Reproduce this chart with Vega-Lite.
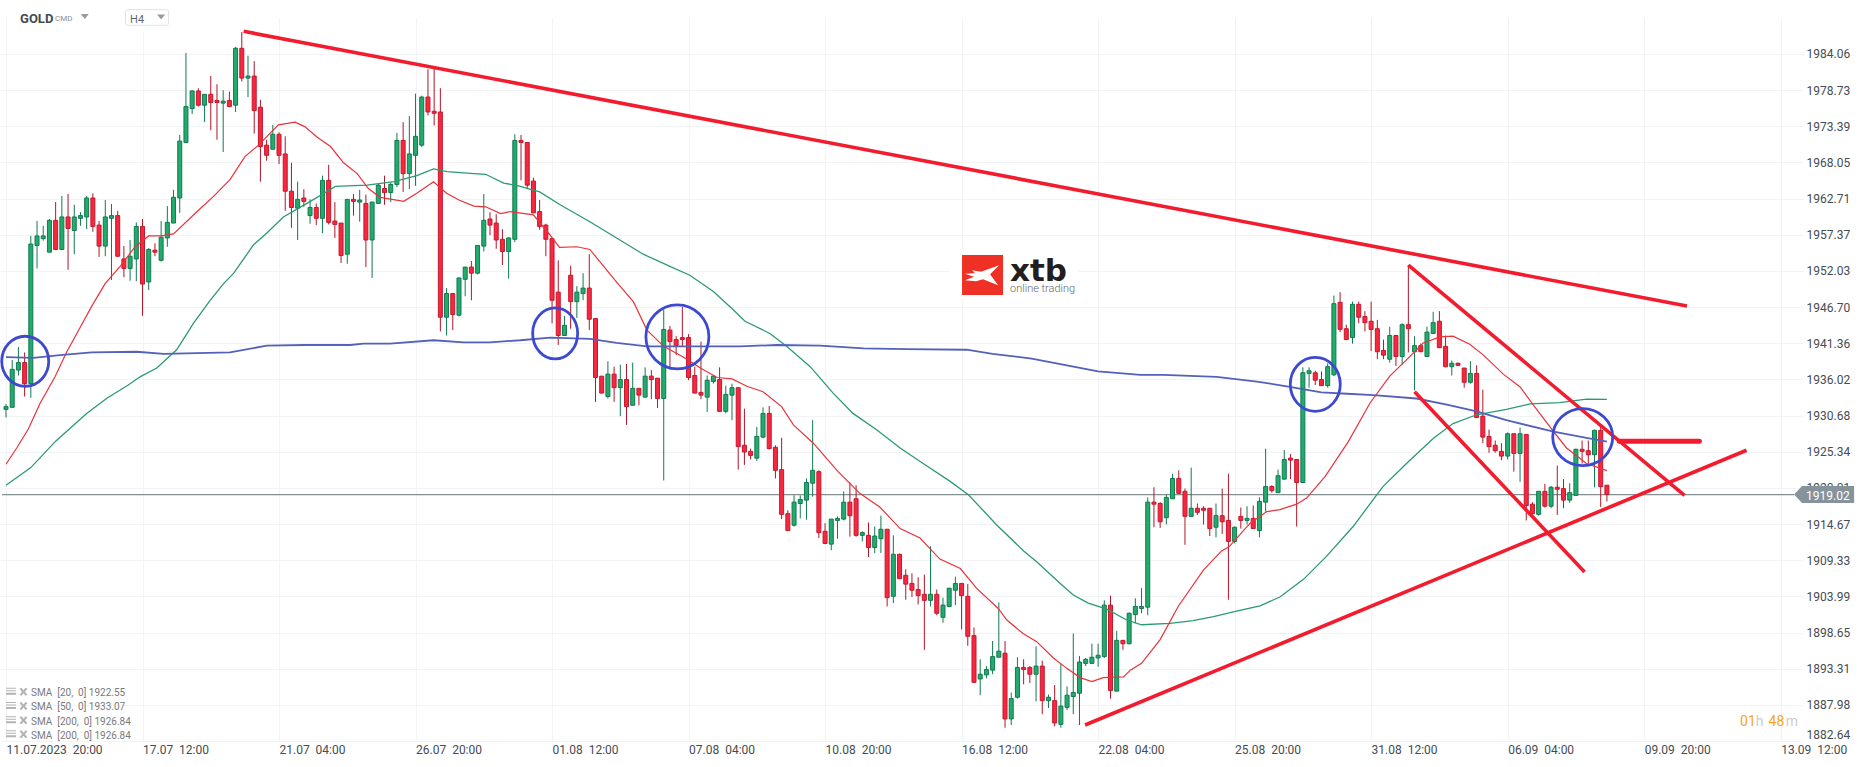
{
  "$schema": "https://vega.github.io/schema/vega-lite/v6.json",
  "width": 1803,
  "height": 723,
  "autosize": "none",
  "padding": {"left": 0, "top": 18, "right": 63, "bottom": 26},
  "background": "white",
  "config": {"view": {"stroke": null}, "font": "Roboto"},
  "resolve": {"scale": {"color": "independent", "shape": "independent"}},
  "datasets": {
    "candles": [
      {"i":0,"o":1931.6,"h":1932.4,"l":1930.4,"c":1932.0},{"i":1,"o":1931.9,"h":1938.9,"l":1931.9,"c":1937.5},{"i":2,"o":1937.4,"h":1940.8,"l":1936.6,"c":1938.5},{"i":3,"o":1938.5,"h":1940.0,"l":1933.5,"c":1935.4},{"i":4,"o":1935.4,"h":1957.2,"l":1933.3,"c":1956.0},
      {"i":5,"o":1955.8,"h":1959.4,"l":1952.4,"c":1957.2},{"i":6,"o":1956.8,"h":1958.7,"l":1956.5,"c":1957.2},{"i":7,"o":1954.8,"h":1959.7,"l":1954.8,"c":1959.5},{"i":8,"o":1959.5,"h":1962.2,"l":1955.1,"c":1955.2},{"i":9,"o":1955.2,"h":1963.1,"l":1955.2,"c":1960.0},
      {"i":10,"o":1960.0,"h":1963.4,"l":1952.2,"c":1958.3},{"i":11,"o":1958.0,"h":1961.8,"l":1954.5,"c":1960.0},{"i":12,"o":1959.8,"h":1960.7,"l":1958.7,"c":1960.2},{"i":13,"o":1960.0,"h":1963.1,"l":1958.2,"c":1962.8},{"i":14,"o":1962.8,"h":1963.5,"l":1957.8,"c":1958.6},
      {"i":15,"o":1958.8,"h":1959.4,"l":1954.1,"c":1955.7},{"i":16,"o":1955.7,"h":1962.5,"l":1954.2,"c":1960.0},{"i":17,"o":1959.8,"h":1961.9,"l":1950.7,"c":1960.2},{"i":18,"o":1960.2,"h":1960.9,"l":1954.1,"c":1954.2},{"i":19,"o":1953.8,"h":1955.7,"l":1951.1,"c":1952.4},
      {"i":20,"o":1952.4,"h":1956.6,"l":1950.6,"c":1954.2},{"i":21,"o":1953.8,"h":1959.2,"l":1950.5,"c":1958.6},{"i":22,"o":1958.6,"h":1959.7,"l":1945.4,"c":1950.1},{"i":23,"o":1950.4,"h":1955.4,"l":1949.2,"c":1955.2},{"i":24,"o":1955.1,"h":1956.1,"l":1954.2,"c":1954.8},
      {"i":25,"o":1953.6,"h":1959.4,"l":1953.4,"c":1957.0},{"i":26,"o":1956.9,"h":1961.6,"l":1955.6,"c":1959.2},{"i":27,"o":1959.1,"h":1964.0,"l":1959.1,"c":1962.9},{"i":28,"o":1962.8,"h":1972.1,"l":1960.6,"c":1971.2},{"i":29,"o":1971.0,"h":1984.2,"l":1971.0,"c":1976.3},
      {"i":30,"o":1976.0,"h":1978.7,"l":1975.2,"c":1978.6},{"i":31,"o":1978.6,"h":1979.0,"l":1976.3,"c":1976.5},{"i":32,"o":1976.5,"h":1978.1,"l":1974.0,"c":1978.1},{"i":33,"o":1978.1,"h":1980.8,"l":1972.8,"c":1976.9},{"i":34,"o":1977.2,"h":1979.6,"l":1971.4,"c":1976.9},
      {"i":35,"o":1976.8,"h":1978.7,"l":1969.6,"c":1977.1},{"i":36,"o":1977.2,"h":1978.5,"l":1976.2,"c":1976.3},{"i":37,"o":1976.5,"h":1985.1,"l":1975.5,"c":1984.9},{"i":38,"o":1984.9,"h":1987.3,"l":1980.0,"c":1980.5},{"i":39,"o":1980.5,"h":1983.8,"l":1977.7,"c":1980.8},
      {"i":40,"o":1980.8,"h":1983.0,"l":1972.3,"c":1975.7},{"i":41,"o":1976.2,"h":1977.3,"l":1965.2,"c":1970.4},{"i":42,"o":1970.6,"h":1971.4,"l":1968.3,"c":1969.1},{"i":43,"o":1970.0,"h":1973.6,"l":1970.0,"c":1972.2},{"i":44,"o":1972.2,"h":1972.5,"l":1967.8,"c":1969.1},
      {"i":45,"o":1969.3,"h":1971.9,"l":1960.9,"c":1963.8},{"i":46,"o":1963.8,"h":1968.0,"l":1958.4,"c":1961.4},{"i":47,"o":1961.3,"h":1965.2,"l":1956.6,"c":1962.6},{"i":48,"o":1962.8,"h":1964.1,"l":1961.5,"c":1962.3},{"i":49,"o":1960.2,"h":1962.6,"l":1959.0,"c":1961.4},
      {"i":50,"o":1961.4,"h":1962.0,"l":1958.8,"c":1959.8},{"i":51,"o":1959.8,"h":1966.1,"l":1957.6,"c":1965.4},{"i":52,"o":1965.4,"h":1967.7,"l":1958.9,"c":1959.2},{"i":53,"o":1959.4,"h":1962.2,"l":1956.9,"c":1958.9},{"i":54,"o":1959.1,"h":1959.1,"l":1953.2,"c":1954.3},
      {"i":55,"o":1954.5,"h":1962.6,"l":1953.1,"c":1962.6},{"i":56,"o":1962.6,"h":1963.4,"l":1960.2,"c":1962.3},{"i":57,"o":1962.2,"h":1964.0,"l":1959.3,"c":1962.5},{"i":58,"o":1962.0,"h":1963.3,"l":1952.6,"c":1956.6},{"i":59,"o":1956.6,"h":1962.2,"l":1951.0,"c":1962.2},
      {"i":60,"o":1962.0,"h":1964.9,"l":1962.0,"c":1964.7},{"i":61,"o":1964.2,"h":1966.1,"l":1961.8,"c":1963.6},{"i":62,"o":1963.6,"h":1965.1,"l":1962.2,"c":1964.8},{"i":63,"o":1964.8,"h":1972.4,"l":1964.4,"c":1971.3},{"i":64,"o":1971.3,"h":1974.0,"l":1963.7,"c":1966.4},
      {"i":65,"o":1966.4,"h":1974.9,"l":1964.1,"c":1969.3},{"i":66,"o":1969.1,"h":1978.2,"l":1964.6,"c":1971.9},{"i":67,"o":1970.6,"h":1977.9,"l":1970.3,"c":1977.7},{"i":68,"o":1977.7,"h":1981.8,"l":1975.0,"c":1975.5},{"i":69,"o":1975.6,"h":1982.0,"l":1973.5,"c":1975.3},
      {"i":70,"o":1975.5,"h":1979.0,"l":1943.1,"c":1945.2},{"i":71,"o":1945.2,"h":1949.5,"l":1942.5,"c":1948.7},{"i":72,"o":1948.7,"h":1948.7,"l":1943.3,"c":1945.6},{"i":73,"o":1945.5,"h":1951.0,"l":1945.3,"c":1951.0},{"i":74,"o":1950.8,"h":1952.6,"l":1948.3,"c":1952.6},
      {"i":75,"o":1952.6,"h":1953.5,"l":1947.7,"c":1951.7},{"i":76,"o":1951.7,"h":1955.8,"l":1951.5,"c":1955.8},{"i":77,"o":1955.7,"h":1963.4,"l":1954.9,"c":1959.5},{"i":78,"o":1959.7,"h":1960.7,"l":1957.3,"c":1958.8},{"i":79,"o":1959.1,"h":1960.4,"l":1955.3,"c":1956.6},
      {"i":80,"o":1956.7,"h":1958.2,"l":1952.9,"c":1954.9},{"i":81,"o":1954.9,"h":1957.0,"l":1950.9,"c":1956.9},{"i":82,"o":1956.7,"h":1972.2,"l":1956.3,"c":1971.3},{"i":83,"o":1971.3,"h":1972.1,"l":1965.4,"c":1971.0},{"i":84,"o":1971.0,"h":1971.0,"l":1964.1,"c":1964.7},
      {"i":85,"o":1965.3,"h":1965.8,"l":1960.6,"c":1960.6},{"i":86,"o":1960.8,"h":1962.5,"l":1958.1,"c":1958.6},{"i":87,"o":1958.8,"h":1959.0,"l":1954.2,"c":1956.7},{"i":88,"o":1956.8,"h":1956.8,"l":1944.3,"c":1947.7},{"i":89,"o":1948.9,"h":1953.6,"l":1941.1,"c":1942.5},
      {"i":90,"o":1942.5,"h":1945.4,"l":1942.5,"c":1944.0},{"i":91,"o":1951.4,"h":1952.8,"l":1943.5,"c":1947.5},{"i":92,"o":1947.5,"h":1949.8,"l":1945.1,"c":1948.9},{"i":93,"o":1948.7,"h":1951.7,"l":1947.7,"c":1949.5},{"i":94,"o":1949.5,"h":1954.5,"l":1943.3,"c":1944.9},
      {"i":95,"o":1945.0,"h":1945.0,"l":1932.7,"c":1936.3},{"i":96,"o":1936.5,"h":1936.5,"l":1934.0,"c":1934.0},{"i":97,"o":1933.5,"h":1938.7,"l":1933.2,"c":1936.8},{"i":98,"o":1936.8,"h":1937.9,"l":1932.7,"c":1934.8},{"i":99,"o":1934.8,"h":1938.2,"l":1930.6,"c":1936.0},
      {"i":100,"o":1936.0,"h":1938.3,"l":1929.3,"c":1932.0},{"i":101,"o":1932.2,"h":1938.5,"l":1932.2,"c":1934.7},{"i":102,"o":1934.7,"h":1934.7,"l":1932.2,"c":1933.7},{"i":103,"o":1933.4,"h":1937.8,"l":1933.4,"c":1936.5},{"i":104,"o":1936.5,"h":1937.4,"l":1933.1,"c":1936.0},
      {"i":105,"o":1936.2,"h":1936.2,"l":1931.8,"c":1933.2},{"i":106,"o":1933.2,"h":1946.3,"l":1921.1,"c":1943.4},{"i":107,"o":1943.3,"h":1943.9,"l":1937.5,"c":1941.6},{"i":108,"o":1941.9,"h":1942.4,"l":1939.6,"c":1941.0},{"i":109,"o":1942.2,"h":1946.7,"l":1940.8,"c":1941.9},
      {"i":110,"o":1942.2,"h":1942.7,"l":1935.9,"c":1936.3},{"i":111,"o":1936.6,"h":1937.9,"l":1934.0,"c":1934.0},{"i":112,"o":1934.1,"h":1941.6,"l":1933.1,"c":1933.7},{"i":113,"o":1933.4,"h":1936.6,"l":1931.2,"c":1935.9},{"i":114,"o":1935.7,"h":1936.7,"l":1935.4,"c":1936.5},
      {"i":115,"o":1936.0,"h":1937.8,"l":1931.3,"c":1931.3},{"i":116,"o":1931.3,"h":1935.1,"l":1931.0,"c":1933.8},{"i":117,"o":1933.7,"h":1935.4,"l":1930.0,"c":1934.8},{"i":118,"o":1934.8,"h":1934.8,"l":1922.7,"c":1926.1},{"i":119,"o":1926.3,"h":1931.7,"l":1923.4,"c":1925.3},
      {"i":120,"o":1925.4,"h":1925.8,"l":1924.2,"c":1924.8},{"i":121,"o":1924.4,"h":1929.0,"l":1924.0,"c":1927.6},{"i":122,"o":1927.5,"h":1931.9,"l":1927.3,"c":1931.0},{"i":123,"o":1931.0,"h":1932.1,"l":1925.7,"c":1925.8},{"i":124,"o":1926.0,"h":1926.3,"l":1921.4,"c":1922.6},
      {"i":125,"o":1922.7,"h":1927.4,"l":1915.4,"c":1916.1},{"i":126,"o":1916.2,"h":1916.7,"l":1913.7,"c":1913.7},{"i":127,"o":1914.5,"h":1918.9,"l":1914.3,"c":1917.9},{"i":128,"o":1917.7,"h":1918.9,"l":1915.5,"c":1918.3},{"i":129,"o":1918.2,"h":1921.4,"l":1915.3,"c":1920.8},
      {"i":130,"o":1920.7,"h":1930.0,"l":1918.7,"c":1922.6},{"i":131,"o":1922.4,"h":1922.6,"l":1912.6,"c":1913.4},{"i":132,"o":1913.6,"h":1914.8,"l":1911.7,"c":1911.8},{"i":133,"o":1911.7,"h":1915.4,"l":1910.8,"c":1915.4},{"i":134,"o":1915.2,"h":1915.8,"l":1912.5,"c":1915.5},
      {"i":135,"o":1915.4,"h":1919.5,"l":1915.2,"c":1917.9},{"i":136,"o":1917.9,"h":1920.8,"l":1912.8,"c":1915.9},{"i":137,"o":1918.4,"h":1920.4,"l":1912.8,"c":1913.0},{"i":138,"o":1913.0,"h":1913.6,"l":1912.1,"c":1913.4},{"i":139,"o":1913.0,"h":1914.9,"l":1909.8,"c":1911.2},
      {"i":140,"o":1911.2,"h":1914.3,"l":1910.4,"c":1912.9},{"i":141,"o":1912.5,"h":1915.9,"l":1910.4,"c":1913.9},{"i":142,"o":1913.9,"h":1913.9,"l":1902.5,"c":1903.8},{"i":143,"o":1904.0,"h":1913.0,"l":1903.0,"c":1910.2},{"i":144,"o":1910.2,"h":1910.3,"l":1906.6,"c":1906.6},
      {"i":145,"o":1907.1,"h":1908.0,"l":1903.5,"c":1905.8},{"i":146,"o":1905.9,"h":1907.4,"l":1903.9,"c":1904.9},{"i":147,"o":1905.0,"h":1906.8,"l":1902.8,"c":1904.1},{"i":148,"o":1904.3,"h":1907.2,"l":1896.1,"c":1903.4},{"i":149,"o":1903.4,"h":1911.4,"l":1902.5,"c":1904.3},
      {"i":150,"o":1904.3,"h":1905.0,"l":1901.2,"c":1901.5},{"i":151,"o":1900.9,"h":1903.8,"l":1900.1,"c":1902.7},{"i":152,"o":1902.5,"h":1905.2,"l":1902.4,"c":1905.2},{"i":153,"o":1904.9,"h":1906.9,"l":1902.7,"c":1905.9},{"i":154,"o":1905.9,"h":1905.9,"l":1899.1,"c":1904.1},
      {"i":155,"o":1904.0,"h":1905.8,"l":1896.7,"c":1898.1},{"i":156,"o":1898.2,"h":1899.4,"l":1891.2,"c":1891.3},{"i":157,"o":1891.8,"h":1894.7,"l":1889.4,"c":1892.5},{"i":158,"o":1892.4,"h":1893.7,"l":1891.9,"c":1893.2},{"i":159,"o":1893.1,"h":1897.4,"l":1892.5,"c":1895.1},
      {"i":160,"o":1895.0,"h":1903.1,"l":1895.0,"c":1895.9},{"i":161,"o":1895.6,"h":1897.4,"l":1884.6,"c":1885.9},{"i":162,"o":1885.9,"h":1889.8,"l":1885.0,"c":1888.9},{"i":163,"o":1889.1,"h":1895.0,"l":1888.9,"c":1893.5},{"i":164,"o":1893.5,"h":1894.7,"l":1891.0,"c":1893.2},
      {"i":165,"o":1893.5,"h":1893.7,"l":1891.2,"c":1892.5},{"i":166,"o":1892.5,"h":1896.6,"l":1888.5,"c":1893.7},{"i":167,"o":1893.7,"h":1894.5,"l":1886.6,"c":1888.6},{"i":168,"o":1888.6,"h":1889.5,"l":1887.5,"c":1889.1},{"i":169,"o":1888.6,"h":1890.9,"l":1884.8,"c":1885.3},
      {"i":170,"o":1885.1,"h":1894.0,"l":1884.6,"c":1887.8},{"i":171,"o":1887.6,"h":1890.7,"l":1887.2,"c":1889.4},{"i":172,"o":1889.2,"h":1898.5,"l":1886.6,"c":1889.8},{"i":173,"o":1889.7,"h":1895.2,"l":1885.0,"c":1894.3},{"i":174,"o":1894.1,"h":1894.9,"l":1893.7,"c":1894.7},
      {"i":175,"o":1894.1,"h":1897.0,"l":1894.0,"c":1895.0},{"i":176,"o":1894.9,"h":1897.0,"l":1893.6,"c":1895.3},{"i":177,"o":1895.1,"h":1903.4,"l":1894.9,"c":1902.7},{"i":178,"o":1902.7,"h":1904.1,"l":1888.9,"c":1890.1},{"i":179,"o":1890.0,"h":1898.9,"l":1890.0,"c":1897.5},
      {"i":180,"o":1897.5,"h":1897.5,"l":1896.1,"c":1897.0},{"i":181,"o":1897.0,"h":1901.6,"l":1896.9,"c":1901.5},{"i":182,"o":1901.3,"h":1903.7,"l":1900.0,"c":1902.5},{"i":183,"o":1902.2,"h":1905.2,"l":1901.5,"c":1902.5},{"i":184,"o":1902.4,"h":1918.6,"l":1901.2,"c":1917.9},
      {"i":185,"o":1917.9,"h":1920.1,"l":1914.2,"c":1917.6},{"i":186,"o":1917.7,"h":1917.9,"l":1914.1,"c":1915.0},{"i":187,"o":1915.6,"h":1919.0,"l":1914.6,"c":1918.6},{"i":188,"o":1918.4,"h":1922.1,"l":1918.4,"c":1921.4},{"i":189,"o":1921.4,"h":1922.6,"l":1919.1,"c":1919.2},
      {"i":190,"o":1919.5,"h":1919.9,"l":1911.6,"c":1915.8},{"i":191,"o":1915.8,"h":1923.0,"l":1915.8,"c":1917.0},{"i":192,"o":1917.0,"h":1917.7,"l":1916.0,"c":1916.4},{"i":193,"o":1917.0,"h":1917.3,"l":1914.6,"c":1916.7},{"i":194,"o":1917.0,"h":1917.0,"l":1912.9,"c":1914.0},
      {"i":195,"o":1914.2,"h":1917.7,"l":1912.7,"c":1915.9},{"i":196,"o":1915.9,"h":1919.9,"l":1913.2,"c":1915.0},{"i":197,"o":1915.2,"h":1922.1,"l":1903.5,"c":1912.1},{"i":198,"o":1912.1,"h":1914.3,"l":1911.8,"c":1914.2},{"i":199,"o":1915.8,"h":1917.1,"l":1914.0,"c":1915.2},
      {"i":200,"o":1915.2,"h":1917.3,"l":1914.6,"c":1915.5},{"i":201,"o":1915.5,"h":1917.4,"l":1914.0,"c":1914.0},{"i":202,"o":1913.7,"h":1918.6,"l":1912.7,"c":1918.0},{"i":203,"o":1917.9,"h":1925.8,"l":1916.5,"c":1920.2},{"i":204,"o":1920.2,"h":1920.4,"l":1919.3,"c":1919.6},
      {"i":205,"o":1919.3,"h":1922.7,"l":1919.3,"c":1921.8},{"i":206,"o":1921.3,"h":1925.6,"l":1921.2,"c":1924.2},{"i":207,"o":1924.4,"h":1925.0,"l":1921.3,"c":1924.1},{"i":208,"o":1924.2,"h":1924.2,"l":1914.3,"c":1920.8},{"i":209,"o":1920.8,"h":1937.8,"l":1920.7,"c":1937.0},
      {"i":210,"o":1936.9,"h":1937.8,"l":1934.8,"c":1937.3},{"i":211,"o":1937.0,"h":1937.3,"l":1935.2,"c":1935.9},{"i":212,"o":1936.0,"h":1937.2,"l":1935.1,"c":1935.1},{"i":213,"o":1935.1,"h":1938.4,"l":1934.8,"c":1937.9},{"i":214,"o":1936.7,"h":1948.4,"l":1936.5,"c":1947.2},
      {"i":215,"o":1947.4,"h":1948.9,"l":1943.0,"c":1943.4},{"i":216,"o":1943.5,"h":1944.1,"l":1941.9,"c":1941.9},{"i":217,"o":1942.2,"h":1947.5,"l":1941.3,"c":1947.1},{"i":218,"o":1947.1,"h":1947.5,"l":1944.3,"c":1945.2},{"i":219,"o":1945.3,"h":1946.1,"l":1943.1,"c":1944.4},
      {"i":220,"o":1944.6,"h":1947.5,"l":1940.2,"c":1943.4},{"i":221,"o":1943.5,"h":1944.8,"l":1939.0,"c":1940.1},{"i":222,"o":1940.3,"h":1941.9,"l":1939.0,"c":1939.6},{"i":223,"o":1939.0,"h":1943.8,"l":1938.5,"c":1942.5},{"i":224,"o":1942.5,"h":1942.5,"l":1938.0,"c":1939.4},
      {"i":225,"o":1939.4,"h":1944.3,"l":1938.2,"c":1944.1},{"i":226,"o":1944.1,"h":1952.9,"l":1940.0,"c":1943.5},{"i":227,"o":1940.1,"h":1942.4,"l":1934.4,"c":1941.0},{"i":228,"o":1941.0,"h":1941.3,"l":1940.1,"c":1940.1},{"i":229,"o":1939.4,"h":1943.8,"l":1939.3,"c":1943.0},
      {"i":230,"o":1942.8,"h":1946.0,"l":1942.8,"c":1944.4},{"i":231,"o":1944.6,"h":1946.1,"l":1940.7,"c":1940.7},{"i":232,"o":1940.9,"h":1942.5,"l":1937.8,"c":1937.9},{"i":233,"o":1937.9,"h":1938.8,"l":1936.6,"c":1938.4},{"i":234,"o":1938.4,"h":1938.5,"l":1938.0,"c":1938.1},
      {"i":235,"o":1937.7,"h":1937.7,"l":1934.8,"c":1935.6},{"i":236,"o":1935.6,"h":1938.7,"l":1935.4,"c":1936.9},{"i":237,"o":1936.9,"h":1938.1,"l":1930.4,"c":1930.4},{"i":238,"o":1930.6,"h":1934.5,"l":1926.6,"c":1927.5},{"i":239,"o":1927.6,"h":1928.6,"l":1925.2,"c":1926.1},
      {"i":240,"o":1926.3,"h":1927.0,"l":1925.2,"c":1925.5},{"i":241,"o":1925.4,"h":1926.6,"l":1924.1,"c":1924.7},{"i":242,"o":1924.7,"h":1928.2,"l":1924.2,"c":1928.0},{"i":243,"o":1928.0,"h":1928.0,"l":1922.4,"c":1925.1},{"i":244,"o":1925.1,"h":1928.9,"l":1920.9,"c":1928.0},
      {"i":245,"o":1927.9,"h":1927.9,"l":1915.2,"c":1917.4},{"i":246,"o":1917.6,"h":1917.9,"l":1916.1,"c":1916.2},{"i":247,"o":1916.1,"h":1919.5,"l":1915.9,"c":1919.5},{"i":248,"o":1919.5,"h":1920.6,"l":1917.1,"c":1917.3},{"i":249,"o":1917.3,"h":1920.3,"l":1917.0,"c":1920.1},
      {"i":250,"o":1920.1,"h":1923.3,"l":1916.0,"c":1919.8},{"i":251,"o":1919.9,"h":1921.3,"l":1917.0,"c":1918.2},{"i":252,"o":1918.2,"h":1920.7,"l":1917.8,"c":1919.3},{"i":253,"o":1918.9,"h":1925.8,"l":1918.9,"c":1925.7},{"i":254,"o":1925.7,"h":1927.0,"l":1923.6,"c":1925.4},
      {"i":255,"o":1925.5,"h":1927.0,"l":1923.6,"c":1924.9},{"i":256,"o":1924.9,"h":1928.6,"l":1920.1,"c":1928.5},{"i":257,"o":1928.5,"h":1929.0,"l":1917.2,"c":1920.2},{"i":258,"o":1920.4,"h":1920.4,"l":1918.0,"c":1919.02}
    ],
    "sma20": [
      {"i":0,"p":1923.5},{"i":1.8,"p":1926.0},{"i":3.6,"p":1928.7},{"i":5.5,"p":1932.5},{"i":7.9,"p":1936.4},{"i":9.8,"p":1940.1},{"i":11.9,"p":1943.6},{"i":13.8,"p":1946.8},{"i":16,"p":1950.2},{"i":18.4,"p":1952.7},{"i":20.8,"p":1955.6},{"i":23,"p":1957.2},{"i":25.1,"p":1957.2},{"i":27,"p":1957.5},{"i":30.8,"p":1960.8},{"i":33.4,"p":1963.0},{"i":36.1,"p":1965.5},{"i":38.5,"p":1968.9},{"i":40.7,"p":1970.6},{"i":43.9,"p":1973.6},{"i":46.6,"p":1974.0},{"i":48.2,"p":1973.3},{"i":50.1,"p":1971.8},{"i":52.3,"p":1970.4},{"i":54.4,"p":1968.0},{"i":56.6,"p":1966.4},{"i":58.4,"p":1964.2},{"i":60.3,"p":1962.9},{"i":64.1,"p":1962.3},{"i":66.2,"p":1963.5},{"i":68.9,"p":1965.2},{"i":71,"p":1963.5},{"i":73,"p":1962.5},{"i":75.4,"p":1961.6},{"i":77.3,"p":1961.5},{"i":79.7,"p":1960.5},{"i":81.3,"p":1960.8},{"i":85,"p":1960.3},{"i":87.7,"p":1957.3},{"i":89.2,"p":1955.5},{"i":92,"p":1955.6},{"i":94.1,"p":1955.2},{"i":98.1,"p":1950.7},{"i":101.1,"p":1947.5},{"i":103.3,"p":1943.3},{"i":106,"p":1940.9},{"i":109.2,"p":1939.3},{"i":111.9,"p":1937.7},{"i":114.6,"p":1936.3},{"i":117,"p":1936.1},{"i":119.4,"p":1935.0},{"i":122,"p":1934.2},{"i":125,"p":1932.0},{"i":126.9,"p":1929.3},{"i":130.1,"p":1926.6},{"i":134.1,"p":1922.4},{"i":137.6,"p":1919.2},{"i":140.8,"p":1917.2},{"i":144.1,"p":1914.0},{"i":147.3,"p":1912.6},{"i":150.5,"p":1909.5},{"i":153.8,"p":1908.1},{"i":156.4,"p":1905.2},{"i":159.9,"p":1902.2},{"i":161.3,"p":1900.5},{"i":163.9,"p":1898.5},{"i":166.1,"p":1897.3},{"i":168.8,"p":1894.9},{"i":170.9,"p":1893.4},{"i":173.1,"p":1892.0},{"i":175,"p":1891.4},{"i":176.8,"p":1892.0},{"i":180.1,"p":1892.1},{"i":181.2,"p":1893.1},{"i":183,"p":1894.1},{"i":186,"p":1897.6},{"i":188.9,"p":1902.5},{"i":193,"p":1907.9},{"i":195.9,"p":1910.7},{"i":197.1,"p":1911.3},{"i":200.5,"p":1914.8},{"i":203.2,"p":1916.5},{"i":205.3,"p":1916.8},{"i":208,"p":1917.6},{"i":209.6,"p":1918.5},{"i":212.6,"p":1921.7},{"i":216.3,"p":1926.8},{"i":219.8,"p":1932.5},{"i":223,"p":1936.5},{"i":225.7,"p":1938.9},{"i":228.4,"p":1941.4},{"i":231.1,"p":1942.3},{"i":233.2,"p":1942.4},{"i":235.9,"p":1941.2},{"i":238.1,"p":1939.6},{"i":241.3,"p":1936.8},{"i":244,"p":1934.9},{"i":246.1,"p":1932.3},{"i":249.4,"p":1928.3},{"i":251.5,"p":1925.9},{"i":254.7,"p":1923.6},{"i":258,"p":1922.55}
    ],
    "sma50": [
      {"i":0,"p":1920.4},{"i":4,"p":1923.0},{"i":8,"p":1926.9},{"i":10.2,"p":1928.7},{"i":13,"p":1931.0},{"i":16.2,"p":1933.2},{"i":19.7,"p":1935.2},{"i":21.6,"p":1936.4},{"i":24.3,"p":1937.7},{"i":27.5,"p":1940.4},{"i":30.2,"p":1944.3},{"i":32.9,"p":1947.7},{"i":35.1,"p":1950.2},{"i":36.7,"p":1951.7},{"i":39.9,"p":1955.9},{"i":42,"p":1957.6},{"i":44.7,"p":1960.0},{"i":48.5,"p":1962.0},{"i":53.1,"p":1964.5},{"i":58.2,"p":1964.7},{"i":62.5,"p":1965.2},{"i":66.2,"p":1966.1},{"i":68.9,"p":1967.1},{"i":71.1,"p":1966.7},{"i":75.4,"p":1966.4},{"i":77.3,"p":1966.3},{"i":80.2,"p":1965.0},{"i":82.6,"p":1964.6},{"i":86,"p":1963.7},{"i":89.3,"p":1961.8},{"i":94.1,"p":1959.3},{"i":98.4,"p":1956.9},{"i":102.7,"p":1954.5},{"i":107,"p":1952.7},{"i":110.2,"p":1951.4},{"i":114,"p":1949.0},{"i":117.2,"p":1946.3},{"i":119.1,"p":1944.6},{"i":123.1,"p":1942.8},{"i":125.8,"p":1940.9},{"i":129.6,"p":1937.9},{"i":133.3,"p":1934.0},{"i":136.5,"p":1931.0},{"i":140.3,"p":1928.6},{"i":144.1,"p":1925.9},{"i":147.5,"p":1923.8},{"i":152.1,"p":1921.0},{"i":155.1,"p":1919.0},{"i":159.7,"p":1914.5},{"i":164,"p":1910.7},{"i":166.1,"p":1909.1},{"i":169.9,"p":1905.9},{"i":172,"p":1904.2},{"i":174.4,"p":1903.0},{"i":177.4,"p":1902.1},{"i":180.6,"p":1900.5},{"i":183,"p":1899.8},{"i":187.6,"p":1900.0},{"i":191.3,"p":1900.4},{"i":194.6,"p":1901.0},{"i":198.3,"p":1901.8},{"i":202.1,"p":1902.6},{"i":205.3,"p":1903.9},{"i":209.1,"p":1906.5},{"i":212.8,"p":1909.9},{"i":217.1,"p":1914.3},{"i":221.9,"p":1920.2},{"i":225.7,"p":1923.6},{"i":230,"p":1927.3},{"i":233.2,"p":1929.5},{"i":237,"p":1930.8},{"i":241.8,"p":1931.6},{"i":245.6,"p":1932.4},{"i":250.4,"p":1932.6},{"i":254.7,"p":1933.1},{"i":258,"p":1933.07}
    ],
    "sma200": [
      {"i":0,"p":1939.3},{"i":4.4,"p":1939.2},{"i":8.7,"p":1939.6},{"i":13.8,"p":1940.0},{"i":21.1,"p":1940.1},{"i":25.4,"p":1939.8},{"i":36.1,"p":1940.0},{"i":42,"p":1941.0},{"i":48.2,"p":1941.1},{"i":55.5,"p":1941.1},{"i":57.6,"p":1941.3},{"i":61.9,"p":1941.3},{"i":68.9,"p":1941.8},{"i":73.8,"p":1941.5},{"i":78,"p":1941.5},{"i":82.9,"p":1941.8},{"i":87.7,"p":1942.2},{"i":94.1,"p":1942.0},{"i":98.4,"p":1941.4},{"i":103.3,"p":1940.9},{"i":112.9,"p":1940.9},{"i":118.3,"p":1940.9},{"i":124.2,"p":1941.1},{"i":131.2,"p":1941.0},{"i":138.2,"p":1940.6},{"i":145.1,"p":1940.5},{"i":154.8,"p":1940.4},{"i":159,"p":1939.8},{"i":165.3,"p":1939.1},{"i":176,"p":1937.2},{"i":182.8,"p":1936.7},{"i":186.5,"p":1936.7},{"i":195.1,"p":1936.4},{"i":201.6,"p":1935.7},{"i":206.4,"p":1935.0},{"i":212,"p":1934.1},{"i":216.1,"p":1933.9},{"i":220.4,"p":1933.7},{"i":227.3,"p":1933.2},{"i":232.2,"p":1932.3},{"i":237,"p":1931.3},{"i":241.8,"p":1930.0},{"i":249.4,"p":1928.3},{"i":254.7,"p":1927.4},{"i":258,"p":1926.84}
    ],
    "trends": [
      {"line":"a","i":38.3,"p":1987.4},{"line":"a","i":270.9,"p":1946.86},
      {"line":"b","i":226,"p":1952.9},{"line":"b","i":270.5,"p":1918.9},
      {"line":"c","i":227,"p":1934.2},{"line":"c","i":254.4,"p":1907.6},
      {"line":"d","i":173.9,"p":1885.0},{"line":"d","i":280.5,"p":1925.56}
    ],
    "panels": [
      {"kind":"blank","i":18.4,"i2":27,"p":1989.37,"p2":1987.3},
      {"kind":"blank","i":151.97,"i2":172.77,"p":1955.27,"p2":1947.74},
      {"kind":"logo","i":154.07,"i2":160.68,"p":1954.39,"p2":1948.48}
    ],
    "rings": [
      {"ring":"r1","i":3.1,"p":1938.7},
      {"ring":"r2","i":88.5,"p":1942.8},
      {"ring":"r3","i":108.2,"p":1942.3},
      {"ring":"r4","i":211,"p":1935.3},
      {"ring":"r5","i":254.1,"p":1927.5}
    ],
    "glyphs": [
      {"glyph":"tri","i":12.7,"p":1989.6},{"glyph":"tri","i":25,"p":1989.5},
      {"glyph":"menu","i":0.8,"p":1889.9},{"glyph":"menu","i":0.8,"p":1887.8},{"glyph":"menu","i":0.8,"p":1885.7},{"glyph":"menu","i":0.8,"p":1883.65},
      {"glyph":"cross","i":2.82,"p":1889.9},{"glyph":"cross","i":2.82,"p":1887.8},{"glyph":"cross","i":2.82,"p":1885.7},{"glyph":"cross","i":2.82,"p":1883.65},
      {"glyph":"mark","i":157.3,"p":1951.4},
      {"glyph":"tag","i":293,"p":1919.02}
    ],
    "legendRows": [
      {"i":4.03,"p":1889.69,"t":"SMA\u00a0\u00a0[20,\u00a0\u00a00]\u00a01922.55"},
      {"i":4.03,"p":1887.59,"t":"SMA\u00a0\u00a0[50,\u00a0\u00a00]\u00a01933.07"},
      {"i":4.03,"p":1885.49,"t":"SMA\u00a0\u00a0[200,\u00a0\u00a00]\u00a01926.84"},
      {"i":4.03,"p":1883.43,"t":"SMA\u00a0\u00a0[200,\u00a0\u00a00]\u00a01926.84"}
    ]
  },
  "encoding": {
    "x": {
      "field": "i",
      "type": "quantitative",
      "scale": {"domain": [-0.967, 289.6], "nice": false, "zero": false, "padding": 0},
      "axis": {
        "title": null,
        "values": [0, 22, 44, 66, 88, 110, 132, 154, 176, 198, 220, 242, 264, 286],
        "labelExpr": "['11.07.2023\u00a0\u00a020:00','17.07\u00a0\u00a012:00','21.07\u00a0\u00a004:00','26.07\u00a0\u00a020:00','01.08\u00a0\u00a012:00','07.08\u00a0\u00a004:00','10.08\u00a0\u00a020:00','16.08\u00a0\u00a012:00','22.08\u00a0\u00a004:00','25.08\u00a0\u00a020:00','31.08\u00a0\u00a012:00','06.09\u00a0\u00a004:00','09.09\u00a0\u00a020:00','13.09\u00a0\u00a012:00'][datum.value/22]",
        "labelAlign": "left",
        "labelBaseline": "top",
        "labelFont": "Roboto",
        "labelFontSize": 12,
        "labelColor": "#454c52",
        "labelPadding": 3,
        "labelOverlap": false,
        "labelFlush": false,
        "domain": false,
        "ticks": false,
        "grid": true,
        "gridColor": "#f2f3f5",
        "gridWidth": 1
      }
    },
    "y": {
      "field": "p",
      "type": "quantitative",
      "scale": {"domain": [1882.64, 1989.37], "nice": false, "zero": false},
      "axis": {
        "title": null,
        "orient": "right",
        "values": [1984.06, 1978.73, 1973.39, 1968.05, 1962.71, 1957.37, 1952.03, 1946.7, 1941.36, 1936.02, 1930.68, 1925.34, 1920.01, 1914.67, 1909.33, 1903.99, 1898.65, 1893.31, 1887.98, 1882.64],
        "format": ".2f",
        "labelFont": "Roboto",
        "labelFontSize": 12,
        "labelColor": "#454c52",
        "labelPadding": 3,
        "labelOverlap": false,
        "labelFlush": true,
        "domain": false,
        "ticks": false,
        "grid": true,
        "gridColor": "#f2f3f5",
        "gridWidth": 1
      }
    }
  },
  "layer": [
    {
      "data": {"name": "panels"},
      "mark": {"type": "rect"},
      "encoding": {
        "x2": {"field": "i2"},
        "y2": {"field": "p2"},
        "color": {"field": "kind", "type": "nominal", "scale": {"domain": ["blank", "logo"], "range": ["#ffffff", "#ee3124"]}, "legend": null}
      }
    },
    {
      "data": {"values": [{"i": -0.64, "p": 1919.02}, {"i": 288.2, "p": 1919.02}]},
      "mark": {"type": "line", "color": "#84908f", "strokeWidth": 1.3}
    },
    {
      "data": {"name": "candles"},
      "mark": {"type": "rule", "strokeWidth": 1},
      "encoding": {
        "y": {
          "field": "l",
          "type": "quantitative",
          "scale": {"domain": [1882.64, 1989.37], "nice": false, "zero": false},
          "axis": {
            "title": null,
            "orient": "right",
            "values": [1984.06, 1978.73, 1973.39, 1968.05, 1962.71, 1957.37, 1952.03, 1946.7, 1941.36, 1936.02, 1930.68, 1925.34, 1920.01, 1914.67, 1909.33, 1903.99, 1898.65, 1893.31, 1887.98, 1882.64],
            "format": ".2f",
            "labelFont": "Roboto",
            "labelFontSize": 12,
            "labelColor": "#454c52",
            "labelPadding": 3,
            "labelOverlap": false,
            "labelFlush": true,
            "domain": false,
            "ticks": false,
            "grid": true,
            "gridColor": "#f2f3f5",
            "gridWidth": 1
          }
        },
        "y2": {"field": "h"},
        "color": {"condition": {"test": "datum.c >= datum.o", "value": "#0f7a50"}, "value": "#b01528"}
      }
    },
    {
      "data": {"name": "candles"},
      "mark": {"type": "bar", "size": 4, "strokeWidth": 1, "orient": "vertical"},
      "encoding": {
        "y": {
          "field": "o",
          "type": "quantitative",
          "scale": {"domain": [1882.64, 1989.37], "nice": false, "zero": false},
          "axis": {
            "title": null,
            "orient": "right",
            "values": [1984.06, 1978.73, 1973.39, 1968.05, 1962.71, 1957.37, 1952.03, 1946.7, 1941.36, 1936.02, 1930.68, 1925.34, 1920.01, 1914.67, 1909.33, 1903.99, 1898.65, 1893.31, 1887.98, 1882.64],
            "format": ".2f",
            "labelFont": "Roboto",
            "labelFontSize": 12,
            "labelColor": "#454c52",
            "labelPadding": 3,
            "labelOverlap": false,
            "labelFlush": true,
            "domain": false,
            "ticks": false,
            "grid": true,
            "gridColor": "#f2f3f5",
            "gridWidth": 1
          }
        },
        "y2": {"field": "c"},
        "fill": {"condition": {"test": "datum.c >= datum.o", "value": "#22ab6d"}, "value": "#f7273f"},
        "stroke": {"condition": {"test": "datum.c >= datum.o", "value": "#0f7a50"}, "value": "#c4182e"}
      }
    },
    {
      "data": {"name": "sma50"},
      "mark": {"type": "line", "color": "#2b9a74", "strokeWidth": 1.3}
    },
    {
      "data": {"name": "sma20"},
      "mark": {"type": "line", "color": "#e8333a", "strokeWidth": 1.2}
    },
    {
      "data": {"name": "sma200"},
      "mark": {"type": "line", "color": "#5261ba", "strokeWidth": 1.8}
    },
    {
      "data": {"name": "trends"},
      "mark": {"type": "line", "color": "#f21c2e", "strokeWidth": 3.6},
      "encoding": {"detail": {"field": "line", "type": "nominal"}}
    },
    {
      "data": {"values": [{"i": 260, "p": 1926.9}, {"i": 272.9, "p": 1926.9}]},
      "mark": {"type": "line", "color": "#f21c2e", "strokeWidth": 5, "strokeCap": "round"}
    },
    {
      "data": {"name": "rings"},
      "mark": {"type": "point", "size": 4, "filled": false, "opacity": 1, "strokeWidth": 2.8, "color": "#3d49cf"},
      "encoding": {
        "shape": {
          "field": "ring",
          "type": "nominal",
          "legend": null,
          "scale": {
            "domain": ["r1", "r2", "r3", "r4", "r5"],
            "range": [
              "M-23.5,0A23.5,25,0,1,1,23.5,0A23.5,25,0,1,1,-23.5,0Z",
              "M-22.5,0A22.5,25.5,0,1,1,22.5,0A22.5,25.5,0,1,1,-22.5,0Z",
              "M-31.5,0A31.5,32,0,1,1,31.5,0A31.5,32,0,1,1,-31.5,0Z",
              "M-25,0A25,27,0,1,1,25,0A25,27,0,1,1,-25,0Z",
              "M-30,0A30,28.5,0,1,1,30,0A30,28.5,0,1,1,-30,0Z"
            ]
          }
        }
      }
    },
    {
      "data": {"values": [{"i": 19.26, "i2": 26.2, "p": 1990.6, "p2": 1988.3}]},
      "mark": {"type": "rect", "fill": "#ffffff", "stroke": "#dfe2e4", "strokeWidth": 1, "cornerRadius": 2},
      "encoding": {"x2": {"field": "i2"}, "y2": {"field": "p2"}}
    },
    {
      "data": {"name": "glyphs"},
      "mark": {"type": "point", "size": 4, "filled": true, "opacity": 1, "strokeWidth": 0},
      "encoding": {
        "shape": {
          "field": "glyph",
          "type": "nominal",
          "legend": null,
          "scale": {
            "domain": ["tri", "menu", "cross", "mark", "tag"],
            "range": [
              "M-4,-2.5L4,-2.5L0,2.5Z",
              "M-5,-4L5,-4L5,-3L-5,-3ZM-5,-1.5L5,-1.5L5,-0.5L-5,-0.5ZM-5,1L5,1L5,3L-5,3Z",
              "M-4,-3L-2,-4L0,-1.5L2,-4L4,-3L1.5,0L4,3L2,4L0,1.5L-2,4L-4,3L-1.5,0Z",
              "M-17,-1.5L-7,-2L-10,-5L-1,-3.5L17,-10L8,-1L16,10L1,4L-6,6L-17,5L-8,1.5Z",
              "M-30,0L-22,-8.5L30,-8.5L30,8.5L-22,8.5Z"
            ]
          }
        },
        "color": {
          "field": "glyph",
          "type": "nominal",
          "legend": null,
          "scale": {"domain": ["tri", "menu", "cross", "mark", "tag"], "range": ["#9b9b9b", "#b4b4b4", "#b4b4b4", "#ffffff", "#87939a"]}
        }
      }
    },
    {
      "data": {"name": "legendRows"},
      "mark": {"type": "text", "align": "left", "baseline": "middle", "font": "Roboto", "fontSize": 10, "color": "#7a7a7a"},
      "encoding": {"text": {"field": "t"}}
    },
    {
      "data": {"values": [{"i": 293.6, "p": 1918.77, "t": "1919.02"}]},
      "mark": {"type": "text", "align": "center", "baseline": "middle", "font": "Roboto", "fontSize": 12, "color": "#ffffff"},
      "encoding": {"text": {"field": "t"}}
    },
    {
      "data": {"values": [{"i": 2.26, "p": 1989.2, "t": "GOLD"}]},
      "mark": {"type": "text", "align": "left", "baseline": "middle", "font": "Roboto", "fontSize": 13, "fontWeight": "bold", "color": "#3f4a52"},
      "encoding": {"text": {"field": "t"}}
    },
    {
      "data": {"values": [{"i": 7.9, "p": 1989.15, "t": "CMD"}]},
      "mark": {"type": "text", "align": "left", "baseline": "middle", "font": "Roboto", "fontSize": 8, "color": "#8b9196"},
      "encoding": {"text": {"field": "t"}}
    },
    {
      "data": {"values": [{"i": 20, "p": 1989.1, "t": "H4"}]},
      "mark": {"type": "text", "align": "left", "baseline": "middle", "font": "Roboto", "fontSize": 11, "color": "#5f676d"},
      "encoding": {"text": {"field": "t"}}
    },
    {
      "data": {"values": [{"i": 161.8, "p": 1950.48, "t": "xtb"}]},
      "mark": {"type": "text", "align": "left", "baseline": "alphabetic", "font": "DejaVu Sans", "fontSize": 31, "fontWeight": "bold", "color": "#231f20"},
      "encoding": {"text": {"field": "t"}}
    },
    {
      "data": {"values": [{"i": 161.8, "p": 1949.37, "t": "online trading"}]},
      "mark": {"type": "text", "align": "left", "baseline": "middle", "font": "Roboto", "fontSize": 11, "fontWeight": 300, "color": "#666666"},
      "encoding": {"text": {"field": "t"}}
    },
    {
      "data": {"values": [{"i": 279.45, "p": 1885.46, "t": "01"}, {"i": 284.05, "p": 1885.46, "t": "48"}]},
      "mark": {"type": "text", "align": "left", "baseline": "middle", "font": "Roboto", "fontSize": 14, "color": "#f6a623"},
      "encoding": {"text": {"field": "t"}}
    },
    {
      "data": {"values": [{"i": 282, "p": 1885.46, "t": "h"}, {"i": 286.8, "p": 1885.46, "t": "m"}]},
      "mark": {"type": "text", "align": "left", "baseline": "middle", "font": "Roboto", "fontSize": 14, "color": "#cccccc"},
      "encoding": {"text": {"field": "t"}}
    }
  ]
}
